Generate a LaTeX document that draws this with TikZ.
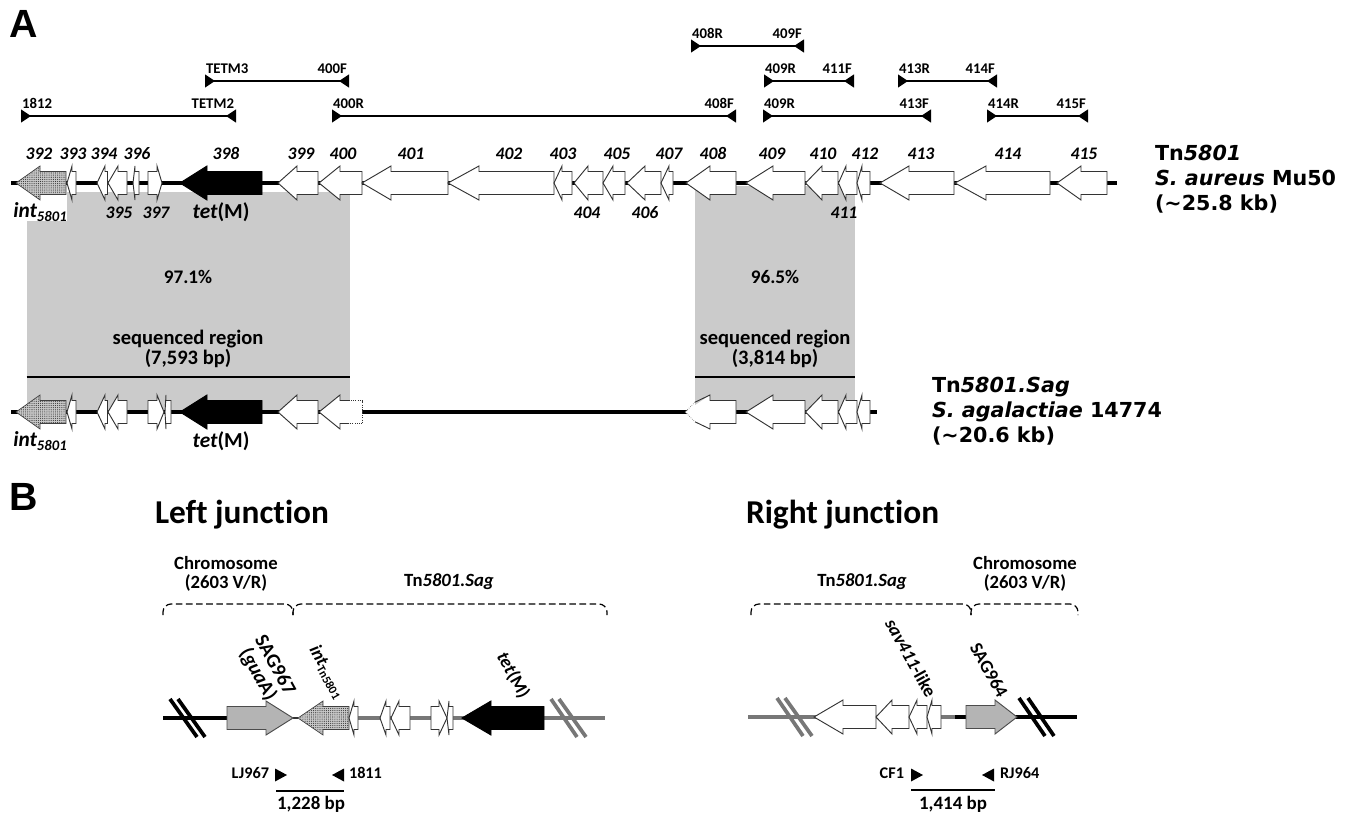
\documentclass[tikz,border=0pt]{standalone}
\usepackage{fontspec}
\setmainfont[Ligatures=NoCommon]{Carlito}
\newfontfamily\vfont{DejaVu Sans}
\newfontfamily\afont{Liberation Sans}
\usetikzlibrary{arrows.meta,patterns.meta}
\definecolor{regiongray}{HTML}{CBCBCB}
\definecolor{genegray}{HTML}{B4B4B4}
\definecolor{stipple}{HTML}{C8C8C8}
\definecolor{spinegray}{HTML}{777777}
\tikzset{
  x=0.75pt,y=-0.75pt,
  every node/.style={inner sep=0pt,outer sep=0pt,align=center,text=black},
  genebox/.style={draw=black!80,line width=0.7pt,fill=white,line join=miter},
  darkgene/.style={draw=black,line width=0.7pt,fill=black},
  graygene/.style={draw=black!70,line width=0.7pt,fill=genegray},
  spine/.style={line width=3pt,draw=black},
  spinelight/.style={line width=3pt,draw=spinegray},
  primerbar/.style={line width=1.6pt,draw=black,{Triangle[reversed,length=7.5pt,width=9.5pt]}-{Triangle[reversed,length=7.5pt,width=9.5pt]}},
  plainbar/.style={line width=1.6pt,draw=black},
  primertip/.style={fill=black,draw=none},
  primerlab/.style={font=\bfseries\fontsize{11.1}{12}\selectfont},
  endlab/.style={font=\bfseries\fontsize{12.2}{13}\selectfont},
  bplab/.style={font=\bfseries\fontsize{14.2}{15}\selectfont},
  genelab/.style={font=\bfseries\itshape\fontsize{13.2}{14}\selectfont,anchor=base},
  biglab/.style={font=\bfseries\fontsize{16}{18}\selectfont},
  pctlab/.style={font=\bfseries\fontsize{14.4}{16}\selectfont},
  seqlab/.style={font=\bfseries\fontsize{15.4}{15.5}\selectfont},
  chromlab/.style={font=\bfseries\fontsize{14}{14.5}\selectfont},
  rotlab/.style={font=\bfseries\fontsize{13.8}{13.5}\selectfont,rotate=-61},
  rotbig/.style={font=\bfseries\fontsize{15}{14.5}\selectfont,rotate=-61},
  strainlab/.style={font=\vfont\bfseries\fontsize{15.5}{18.7}\selectfont,align=left,anchor=north west},
  headlab/.style={font=\bfseries\fontsize{25}{26}\selectfont},
  panellab/.style={font=\afont\bfseries\fontsize{29.5}{30}\selectfont},
  bracket/.style={dash pattern=on 5pt off 2.6pt,line width=0.9pt,draw=black,rounded corners=6pt},
  breakmark/.style={line width=2.8pt,draw=black},
  breaklight/.style={line width=2.8pt,draw=spinegray},
}
% \gene[style]{tail}{base}{tip}{y}
\newcommand{\gene}[5][genebox]{\path[#1] (#2,#5-11.5) -- (#3,#5-11.5) -- (#3,#5-17) -- (#4,#5) -- (#3,#5+17) -- (#3,#5+11.5) -- (#2,#5+11.5) -- cycle;}
\newcommand{\stippled}[4]{%
  \path[fill=stipple] (#1,#4-11.5) -- (#2,#4-11.5) -- (#2,#4-17) -- (#3,#4) -- (#2,#4+17) -- (#2,#4+11.5) -- (#1,#4+11.5) -- cycle;
  \path[pattern={Dots[distance=1.6pt,radius=0.42pt]},pattern color=black!80] (#1,#4-11.5) -- (#2,#4-11.5) -- (#2,#4-17) -- (#3,#4) -- (#2,#4+17) -- (#2,#4+11.5) -- (#1,#4+11.5) -- cycle;
  \draw[black!75,line width=0.5pt] (#1,#4-11.5) -- (#2,#4-11.5) -- (#2,#4-17) -- (#3,#4) -- (#2,#4+17) -- (#2,#4+11.5) -- (#1,#4+11.5) -- cycle;}
\newcommand{\intname}{{\itshape int}{\fontsize{11}{12}\selectfont\itshape\raisebox{-0.32em}{5801}}}
\begin{document}
\begin{tikzpicture}
\path[use as bounding box] (0,0) rectangle (1355,813);

% panel letters and headings
\node[panellab] (panelA) at (24,24) {A};
\node[panellab] (panelB) at (24,497) {B};
\node[headlab,anchor=west] (leftj) at (155,515) {Left junction};
\node[headlab,anchor=west] (rightj) at (746,515) {Right junction};

% grey homology regions
\fill[regiongray] (26.5,192) rectangle (350,410);
\fill[white] (26.5,190) rectangle (67,221);
\fill[regiongray] (695,186) rectangle (855,410);
\node[pctlab] (pct1) at (188,277) {97.1\%};
\node[pctlab] (pct2) at (775,277) {96.5\%};
\node[seqlab] (seq1) at (188,349) {sequenced region\\(7,593 bp)};
\node[seqlab] (seq2) at (775,349) {sequenced region\\(3,814 bp)};
\coordinate (s1a) at (26.5,377); \coordinate (s1b) at (350,377);
\coordinate (s2a) at (695,377); \coordinate (s2b) at (855,377);
\draw[plainbar] (s1a) -- (s1b);
\draw[plainbar] (s2a) -- (s2b);

% PCR products
\foreach \n/\a/\b/\y/\la/\lb in {
  r1/21/236/116/1812/TETM2, r2/332/736/116/400R/408F, r3/763/931/116/409R/413F, r4/987/1088/116/414R/415F,
  r5/205/349/81/TETM3/400F, r6/764/854/81/409R/411F, r7/898/997/81/413R/414F, r8/691/804/46/408R/409F}{
  \coordinate (\n a) at (\a,\y);
  \coordinate (\n b) at (\b,\y);
  \draw[primerbar] (\n a) -- (\n b);
  \node[primerlab,anchor=base west] (\n la) at (\a+1,\y-7) {\la};
  \node[primerlab,anchor=base east] (\n lb) at (\b-2,\y-7) {\lb};
}

% Tn5801 map
\coordinate (m1a) at (11,183); \coordinate (m1b) at (1117,183);
\draw[spine] (m1a) -- (m1b);
\stippled{66}{40}{16}{183}
\foreach \t/\b/\p in {76/72/67,107.5/105/97,127/118/108,139/135/133,148/157/162,
  318/297/278,362/340/319,448/391/362,554/479/448,572/562/554,603/588/574,625/613/603,
  661/645/627,673/669/661,736/710/686,805/773/746,838/822/805.5,857/846/838.5,870/862/857,
  954/909/880,1050/986/955,1107/1081/1057}{
  \gene{\t}{\b}{\p}{183}
}
\gene[darkgene]{262}{207}{180}{183}

\foreach \t/\x in {392/39,393/73,394/104,396/137,398/226,399/301,400/343,401/411,402/509,403/563,405/617,407/669,408/713,409/772,410/823,412/865,413/921,414/1008,415/1084}{
  \node[genelab] (up\t) at (\x,160) {\t};
}
\foreach \t/\x in {395/119,397/156,404/587,406/645,411/844}{
  \node[genelab] (dn\t) at (\x,218) {\t};
}
\node[biglab] (int1) at (40,212) {\intname};
\node[biglab] (tet1) at (221,212) {{\itshape tet}(M)};
\node[strainlab] (strain1) at (1155,145) {Tn{\itshape 5801}\\{\itshape S. aureus} Mu50\\(\textasciitilde25.8 kb)};

% Tn5801.Sag map
\coordinate (m2a) at (11,412); \coordinate (m2b) at (877,412);
\draw[spine] (m2a) -- (m2b);
\stippled{66}{40}{16}{412}
\foreach \t/\b/\p in {76/72/67,107.5/105/97,127/118/108,148/157/164,171/166/165,
  318/297/278,805/773/746,838/822/805.5,857/846/838.5,870/862/857}{
  \gene{\t}{\b}{\p}{412}
}
\gene[darkgene]{262}{207}{180}{412}
% 400 with dotted end
\path[fill=white] (362,400.5) -- (340,400.5) -- (340,395) -- (319,412) -- (340,429) -- (340,423.5) -- (362,423.5) -- cycle;
\draw[black!80,line width=0.7pt] (349,400.5) -- (340,400.5) -- (340,395) -- (319,412) -- (340,429) -- (340,423.5) -- (349,423.5);
\draw[black!80,line width=0.6pt,densely dotted] (349,400.5) -- (362,400.5) -- (362,423.5) -- (349,423.5);
% 408 with dotted tip
\path[fill=white] (736,400.5) -- (710,400.5) -- (710,395) -- (685,412) -- (710,429) -- (710,423.5) -- (736,423.5) -- cycle;
\draw[black!80,line width=0.7pt] (695,402.2) -- (710,395) -- (710,400.5) -- (736,400.5) -- (736,423.5) -- (710,423.5) -- (710,429) -- (695,421.8);
\draw[black!50,line width=0.5pt,densely dotted] (695,402.2) -- (685,412) -- (695,421.8);
\node[biglab] (int2) at (40,441) {\intname};
\node[biglab] (tet2) at (221,441) {{\itshape tet}(M)};
\node[strainlab] (strain2) at (932,377) {Tn{\itshape 5801.Sag}\\{\itshape S. agalactiae} 14774\\(\textasciitilde20.6 kb)};

% Left junction
\node[chromlab] (chl) at (226,574) {Chromosome\\(2603 V/R)};
\node[chromlab] (tnl) at (449,582) {Tn{\itshape 5801.Sag}};
\node[chromlab] (tnr) at (862,582) {Tn{\itshape 5801.Sag}};
\node[chromlab] (chr) at (1025,574) {Chromosome\\(2603 V/R)};
\draw[bracket] (163,615) -- (163,604) -- (293,604) -- (293,615);
\draw[bracket] (293,615) -- (293,604) -- (607,604) -- (607,615);
\draw[bracket] (751,615) -- (751,604) -- (971,604) -- (971,615);
\draw[bracket] (971,615) -- (971,604) -- (1078,604) -- (1078,615);

\coordinate (l1) at (163,718); \coordinate (l2) at (227,718); \coordinate (l3) at (349,718); \coordinate (l4) at (605,718);
\draw[spine] (l1) -- (l2);
\draw[spinelight] (l3) -- (l4);
\draw[black!80,line width=1pt] (293,718) -- (298,718);
\gene[graygene]{227}{266}{293}{718}
\stippled{349}{323}{298}{718}
\foreach \t/\b/\p in {358/354/349,390/386/380,410/399/391,431/439/447,453/449/447}{
  \gene{\t}{\b}{\p}{718}
}
\gene[darkgene]{544}{491}{462}{718}
\foreach \a/\b/\c/\d/\s in {170/699/197/737/breakmark,178/699/205/737/breakmark,551/699/577/737/breaklight,559/699/586/737/breaklight}{
  \coordinate (ba) at (\a,\b); \coordinate (bb) at (\c,\d);
  \draw[\s] (ba) -- (bb);
}
\node[rotbig] (sag967) at (266,670) {SAG967\\({\itshape gua}A)};
\node[rotlab] (intb) at (327,672) {{\itshape int}{\fontsize{9}{10}\selectfont\raisebox{-0.25em}{Tn5801}}};
\node[rotlab] (tetb) at (513,675) {{\itshape tet}(M)};

\coordinate (ta) at (275,775); \coordinate (tb) at (344,775);
\fill[primertip] (ta) ++(0,-6.5) -- ++(12,6.5) -- ++(-12,6.5) -- cycle;
\fill[primertip] (tb) ++(0,-6.5) -- ++(-12,6.5) -- ++(12,6.5) -- cycle;
\node[endlab,anchor=east] (lj967) at (269,773) {LJ967};
\node[endlab,anchor=west] (p1811) at (349,773) {1811};
\coordinate (ca) at (276,791); \coordinate (cb) at (344,791);
\draw[plainbar] (ca) -- (cb);
\node[bplab] (bp1) at (311,804) {1,228 bp};

% Right junction
\coordinate (r1) at (748,717); \coordinate (r2) at (955,717); \coordinate (r3) at (1077,717);
\draw[spinelight] (r1) -- (r2);
\draw[spine] (r2) -- (r3);
\foreach \t/\b/\p in {876/843/814,909/892/876,927/917/909,941/932/927}{
  \gene{\t}{\b}{\p}{717}
}
\gene[graygene]{966}{995}{1017}{717}
\foreach \a/\b/\c/\d/\s in {777/698/803/736/breaklight,785/698/812/736/breaklight,1019/698/1045/736/breakmark,1028/698/1054/736/breakmark}{
  \coordinate (ba) at (\a,\b); \coordinate (bb) at (\c,\d);
  \draw[\s] (ba) -- (bb);
}
\node[rotlab] (sav) at (911,658) {{\itshape sav411}-like};
\node[rotlab] (sag964) at (989,670) {SAG964};

\coordinate (tc) at (911,775); \coordinate (td) at (994,775);
\fill[primertip] (tc) ++(0,-6.5) -- ++(12,6.5) -- ++(-12,6.5) -- cycle;
\fill[primertip] (td) ++(0,-6.5) -- ++(-12,6.5) -- ++(12,6.5) -- cycle;
\node[endlab,anchor=east] (cf1) at (904,773) {CF1};
\node[endlab,anchor=west] (rj964) at (1000,773) {RJ964};
\coordinate (cc) at (911,790); \coordinate (cd) at (995,790);
\draw[plainbar] (cc) -- (cd);
\node[bplab] (bp2) at (953,804) {1,414 bp};
\end{tikzpicture}
\end{document}
